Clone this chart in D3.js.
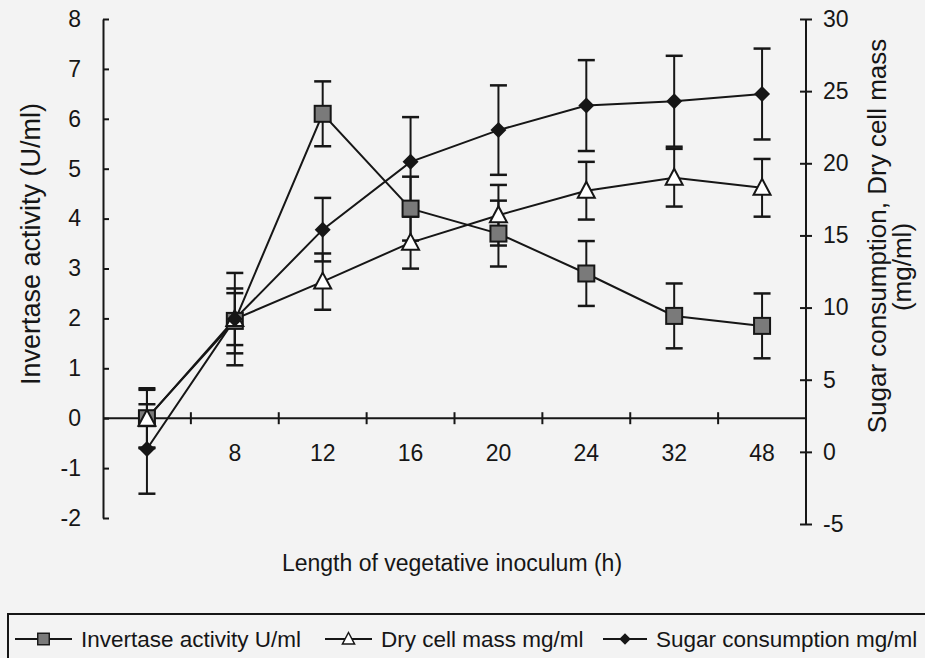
<!DOCTYPE html>
<html>
<head>
<meta charset="utf-8">
<script src="https://cdn.jsdelivr.net/npm/d3@7"></script>
<style>
  body { margin: 0; background: #f3f3f3; }
  svg { display: block; font-family: Arial, "Liberation Sans", sans-serif; }
</style>
</head>
<body>
<div id="chart"></div>
<script>
// length of vegetative inoculum (h); first one carries no label on the axis
const hours = [4, 8, 12, 16, 20, 24, 32, 48];
const tickLabels = ["", "8", "12", "16", "20", "24", "32", "48"];

// left axis
const invertase = [0, 1.95, 6.1, 4.2, 3.7, 2.9, 2.05, 1.85];
const invertaseErr = [0.6, 0.65, 0.65, 0.64, 0.66, 0.65, 0.65, 0.65];

// right axis
const dryMass = [2.3, 9.2, 11.8, 14.5, 16.4, 18.1, 19.0, 18.3];
const dryMassErr = [2.0, 1.8, 1.95, 1.8, 2.1, 2.0, 2.0, 2.0];
const sugar = [0.2, 9.2, 15.4, 20.1, 22.3, 24.0, 24.3, 24.8];
const sugarErr = [3.1, 3.2, 2.2, 3.1, 3.1, 3.15, 3.15, 3.15];

const leftTicks = [-2, -1, 0, 1, 2, 3, 4, 5, 6, 7, 8];
const rightTicks = [-5, 0, 5, 10, 15, 20, 25, 30];

const width = 925, height = 658;
const x0 = 103, x1 = 806;

const svg = d3.select("#chart").append("svg")
  .attr("width", width)
  .attr("height", height);

const scaleX = d3.scaleBand().domain(hours).range([x0, x1]);
const scaleL = d3.scaleLinear().domain([-2, 8]).range([518, 19]);
const scaleR = d3.scaleLinear().domain([-5, 30]).range([524, 19]);

const ink = "#161616";
const plain = d => String(d);

// left axis
const leftAxis = svg.append("g").attr("transform", `translate(${x0},0)`)
  .call(d3.axisLeft(scaleL).tickValues(leftTicks).tickFormat(plain)
    .tickSizeInner(6).tickSizeOuter(0).tickPadding(16));
leftAxis.selectAll(".tick line").attr("x2", 6);

// right axis
const rightAxis = svg.append("g").attr("transform", `translate(${x1},0)`)
  .call(d3.axisRight(scaleR).tickValues(rightTicks).tickFormat(plain)
    .tickSizeInner(6).tickSizeOuter(0).tickPadding(11));
rightAxis.selectAll(".tick line").attr("x1", -6);
rightAxis.select(".domain").attr("d", `M0,${scaleR(-5)}V${scaleR(30)}`);

// bottom axis through left zero, ticks between categories
const bottom = svg.append("g").attr("transform", `translate(0,${scaleL(0)})`);
bottom.append("line").attr("x1", x0).attr("x2", x1).attr("stroke", ink).attr("stroke-width", 2);
bottom.selectAll(".sep")
  .data(hours.slice(1))
  .enter().append("line")
  .attr("x1", d => scaleX(d)).attr("x2", d => scaleX(d))
  .attr("y1", -6).attr("y2", 6)
  .attr("stroke", ink).attr("stroke-width", 2);
bottom.selectAll(".lab")
  .data(hours)
  .enter().append("text")
  .attr("x", d => scaleX(d) + scaleX.bandwidth() / 2)
  .attr("y", 43)
  .attr("text-anchor", "middle")
  .attr("font-size", 23)
  .attr("fill", ink)
  .text((d, i) => tickLabels[i]);

svg.selectAll(".domain, .tick line").attr("stroke", ink).attr("stroke-width", 2);
svg.selectAll(".tick text").attr("font-size", 23).attr("fill", ink);

// axis titles
svg.append("text")
  .attr("transform", "translate(40,244) rotate(-90)")
  .attr("text-anchor", "middle").attr("font-size", 27).attr("fill", ink)
  .text("Invertase activity (U/ml)");
svg.append("text")
  .attr("transform", "translate(886,236) rotate(-90)")
  .attr("text-anchor", "middle").attr("font-size", 26).attr("fill", ink)
  .text("Sugar consumption, Dry cell mass");
svg.append("text")
  .attr("transform", "translate(911,267) rotate(-90)")
  .attr("text-anchor", "middle").attr("font-size", 26).attr("fill", ink)
  .text("(mg/ml)");
svg.append("text")
  .attr("x", 452).attr("y", 571)
  .attr("text-anchor", "middle").attr("font-size", 23).attr("fill", ink)
  .text("Length of vegetative inoculum (h)");

const cx = d => scaleX(d) + scaleX.bandwidth() / 2;

const series = [
  { name: "Invertase activity U/ml", vals: invertase, err: invertaseErr, scale: scaleL, marker: "square" },
  { name: "Dry cell mass mg/ml", vals: dryMass, err: dryMassErr, scale: scaleR, marker: "triangle" },
  { name: "Sugar consumption mg/ml", vals: sugar, err: sugarErr, scale: scaleR, marker: "diamond" }
];

function drawMarker(g, type) {
  if (type === "square") {
    g.append("rect").attr("x", -8).attr("y", -8).attr("width", 16).attr("height", 16)
      .attr("fill", "#7a7a7a").attr("stroke", ink).attr("stroke-width", 2);
  } else if (type === "triangle") {
    g.append("path").attr("d", "M0,-9L8.5,7H-8.5Z")
      .attr("fill", "#fff").attr("stroke", ink).attr("stroke-width", 2);
  } else {
    g.append("path").attr("d", "M0,-8L8,0L0,8L-8,0Z").attr("fill", ink);
  }
}

const line = d3.line();

series.forEach(s => {
  const pts = hours.map((h, i) => [cx(h), s.scale(s.vals[i])]);
  svg.append("path").attr("d", line(pts))
    .attr("fill", "none").attr("stroke", ink).attr("stroke-width", 2);
});

series.forEach(s => {
  const eb = svg.append("g");
  hours.forEach((h, i) => {
    const yt = s.scale(s.vals[i] + s.err[i]), yb = s.scale(s.vals[i] - s.err[i]);
    eb.append("line").attr("x1", cx(h)).attr("x2", cx(h)).attr("y1", yt).attr("y2", yb)
      .attr("stroke", ink).attr("stroke-width", 2);
    [yt, yb].forEach(y => eb.append("line")
      .attr("x1", cx(h) - 8.5).attr("x2", cx(h) + 8.5).attr("y1", y).attr("y2", y)
      .attr("stroke", ink).attr("stroke-width", 2.5));
  });
});

series.forEach(s => {
  hours.forEach((h, i) => {
    const g = svg.append("g").attr("transform", `translate(${cx(h)},${s.scale(s.vals[i])})`);
    drawMarker(g, s.marker);
  });
});

// legend
const legend = svg.append("g");
legend.append("rect").attr("x", 8).attr("y", 614).attr("width", 930).attr("height", 60)
  .attr("fill", "none").attr("stroke", ink).attr("stroke-width", 2);
const legendPos = [15, 325, 603];
const legendLen = [57, 47, 44];
series.forEach((s, i) => {
  const len = legendLen[i];
  const g = legend.append("g").attr("transform", `translate(${legendPos[i]},639)`);
  g.append("line").attr("x1", 0).attr("x2", len).attr("stroke", ink).attr("stroke-width", 2);
  const m = g.append("g").attr("transform", `translate(${len / 2},0) scale(0.72)`);
  drawMarker(m, s.marker);
  g.append("text").attr("x", len + 9).attr("y", 8).attr("font-size", 22.5).attr("fill", ink).text(s.name);
});
</script>
</body>
</html>
